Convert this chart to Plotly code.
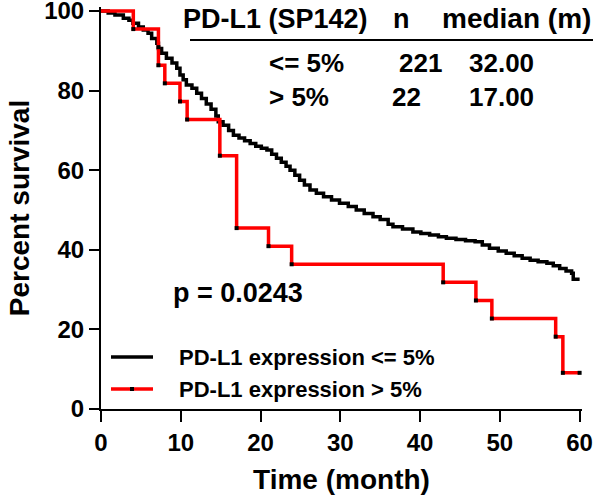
import plotly.graph_objects as go

# ---------------- data ----------------
black_time = [0, 0.9, 1.75, 2.8, 3.5, 4.0, 4.7, 5.3, 5.9, 6.35, 7.0, 7.2, 7.6, 8.2, 8.9, 9.5,
              9.9, 10.3, 10.7, 11.4, 12.0, 12.6, 13.2, 13.8, 14.4, 14.7, 15.3, 16.0, 16.6,
              17.3, 18.0, 18.7, 19.4, 20.1, 20.8, 21.4, 22.0, 22.6, 23.2, 23.7, 24.3, 24.9,
              25.5, 26.2, 27.0, 27.9, 28.9, 29.9, 31.0, 32.0, 33.0, 34.1, 35.0, 36.0, 36.6,
              37.8, 39.1, 40.1, 41.2, 42.3, 43.3, 44.5, 45.7, 46.9, 47.8, 48.7, 49.8, 50.8,
              51.8, 52.8, 53.8, 54.8, 55.9, 56.7, 57.5, 58.3, 59.0, 59.2, 60]
black_surv = [100, 99.5, 99.0, 98.2, 97.7, 96.9, 96.0, 95.2, 94.4, 93.1, 91.9, 90.6, 89.4, 88.1,
              86.9, 85.6, 83.9, 82.7, 81.4, 80.6, 79.3, 78.0, 76.6, 75.3, 73.6, 72.2, 71.3,
              70.0, 68.8, 68.1, 67.4, 66.7, 66.0, 65.5, 65.1, 64.0, 63.0, 62.0, 61.0, 60.0,
              58.7, 57.5, 56.3, 55.0, 54.2, 53.3, 52.5, 51.7, 50.9, 50.0, 49.1, 48.3, 47.6,
              46.4, 45.8, 45.2, 44.5, 44.1, 43.7, 43.3, 42.9, 42.6, 42.3, 42.0, 41.2, 40.4,
              39.7, 39.1, 38.5, 37.9, 37.4, 37.0, 36.6, 36.0, 35.3, 34.7, 34.1, 32.6, 32.6]

red_time = [0, 4.05, 7.2, 7.2, 8.0, 9.9, 10.8, 14.9, 17.0, 21.0, 23.9, 42.9, 47.0, 49.0,
            57.0, 57.9, 60]
red_surv = [100, 95.45, 90.91, 86.36, 81.82, 77.27, 72.73, 63.64, 45.45, 40.91, 36.36,
            31.82, 27.27, 22.73, 18.18, 9.09, 9.09]

series_names = ["PD-L1 expression <= 5%", "PD-L1 expression > 5%"]
series_colors = ["black", "#ff0000"]
x_ticks = [0, 10, 20, 30, 40, 50, 60]
y_ticks = [0, 20, 40, 60, 80, 100]

table_header = ["PD-L1 (SP142)", "n", "median (m)"]
table_groups = ["<= 5%", "> 5%"]
table_n = ["221", "22"]
table_median = ["32.00", "17.00"]
p_text = "p = 0.0243"

# ---------------- layout geometry ----------------
W, H = 597, 497
ML, MR, MT, MB = 101, 15, 7, 88
PW = W - ML - MR
PH = H - MT - MB
FONT = "Arial, 'Liberation Sans', sans-serif"


def px(x):
    return (x - ML) / PW


def py(y):
    return (H - MB - y) / PH


fig = go.Figure()

fig.add_trace(go.Scatter(
    x=black_time, y=black_surv, mode="lines",
    line=dict(color=series_colors[0], width=3.5, shape="hv"),
    name=series_names[0], showlegend=False))
fig.add_trace(go.Scatter(
    x=red_time, y=red_surv, mode="lines",
    line=dict(color=series_colors[1], width=3.5, shape="hv"),
    name=series_names[1], showlegend=False))
# event marks on the red curve
fig.add_trace(go.Scatter(
    x=red_time[1:], y=red_surv[1:], mode="markers",
    marker=dict(symbol="square", size=4, color="black"),
    showlegend=False, hoverinfo="skip"))

ann = []
shapes = []


def text(s, x, y, size, anchor="left"):
    ann.append(dict(text=s, x=px(x), y=py(y), xref="paper", yref="paper", showarrow=False,
                    xanchor=anchor, yanchor="middle", borderpad=0,
                    font=dict(family=FONT, size=size, color="black", weight="bold")))


text(table_header[0], 182, 19, 27)
text(table_header[1], 401, 19, 27, "center")
text(table_header[2], 441, 19, 28)
text(table_groups[0], 268, 63, 26)
text(table_n[0], 420, 63, 26, "center")
text(table_median[0], 468, 63, 26)
text(table_groups[1], 268, 97, 26)
text(table_n[1], 406, 97, 26, "center")
text(table_median[1], 468, 97, 26)
text(p_text, 172, 293, 27)

shapes.append(dict(type="line", xref="paper", yref="paper", x0=px(190), x1=px(593),
                   y0=py(40), y1=py(40), line=dict(color="black", width=2)))

# legend drawn by hand (line sample + label)
leg_y = [357, 389]
for i in range(2):
    shapes.append(dict(type="line", xref="paper", yref="paper", x0=px(111), x1=px(153),
                       y0=py(leg_y[i]), y1=py(leg_y[i]),
                       line=dict(color=series_colors[i], width=3.5)))
    text(series_names[i], 178, leg_y[i], 22)
shapes.append(dict(type="rect", xref="paper", yref="paper", x0=px(130), x1=px(134),
                   y0=py(leg_y[1] - 2), y1=py(leg_y[1] + 2),
                   line=dict(width=0), fillcolor="black"))

fig.update_layout(
    template="none",
    width=W, height=H,
    margin=dict(l=ML, r=MR, t=MT, b=MB, autoexpand=False),
    paper_bgcolor="white", plot_bgcolor="white",
    font=dict(family=FONT, color="black"),
    annotations=ann,
    shapes=shapes,
    showlegend=False,
    xaxis=dict(range=[0, 60.3], tickvals=x_ticks, showgrid=False, zeroline=False,
               automargin=False, ticklabeloverflow="allow",
               showline=True, linecolor="black", linewidth=2, ticks="outside", ticklen=11,
               tickwidth=2, tickcolor="black",
               tickfont=dict(family=FONT, size=24, color="black", weight="bold"),
               title=dict(text="Time (month)", standoff=15,
                          font=dict(family=FONT, size=28, color="black", weight="bold"))),
    yaxis=dict(range=[0, 101], tickvals=y_ticks, showgrid=False, zeroline=False,
               automargin=False, ticklabeloverflow="allow",
               showline=True, linecolor="black", linewidth=2, ticks="outside", ticklen=10,
               tickwidth=2, tickcolor="black",
               tickfont=dict(family=FONT, size=24, color="black", weight="bold"),
               title=dict(text="Percent survival", standoff=6,
                          font=dict(family=FONT, size=28, color="black", weight="bold"))),
)

fig.write_html("out.html", post_script="document.body.style.margin='0';",
               config={"displayModeBar": False})
